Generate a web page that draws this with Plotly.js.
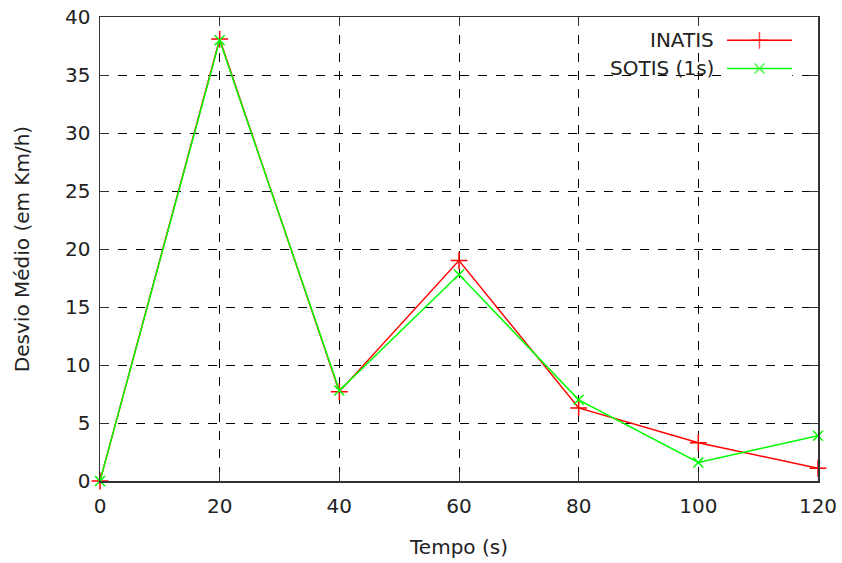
<!DOCTYPE html>
<html>
<head>
<meta charset="utf-8">
<script src="https://cdn.plot.ly/plotly-3.0.1.min.js"></script>
<style>html,body{margin:0;padding:0;background:#fff;}#chart{width:842px;height:563px;}</style>
</head>
<body>
<div id="chart"></div>
<script>
const tempo = [0, 20, 40, 60, 80, 100, 120];
const inatis = [0, 38.1, 7.7, 19.0, 6.3, 3.3, 1.1];
const sotis = [0, 38.0, 7.8, 17.8, 7.0, 1.6, 3.9];
const seriesNames = ['INATIS', 'SOTIS (1s)'];
const xTicks = [0, 20, 40, 60, 80, 100, 120];
const yTicks = [0, 5, 10, 15, 20, 25, 30, 35, 40];

const font = 'DejaVu Sans, sans-serif';
const txt = '#222';
const traces = [
  {x: tempo, y: inatis, name: seriesNames[0], mode: 'lines+markers', cliponaxis: false,
   line: {color: '#ff0000', width: 1.5},
   marker: {symbol: 'cross-thin', size: 12, line: {color: '#ff0000', width: 1.5}},
   showlegend: false},
  {x: tempo, y: sotis, name: seriesNames[1], mode: 'lines+markers', cliponaxis: false,
   line: {color: '#00ff00', width: 1.5},
   marker: {symbol: 'x-thin', size: 10, line: {color: '#00ff00', width: 1.5}},
   showlegend: false},
  // legend key samples (on a hidden auxiliary axis pair)
  {x: [0, 0.5, 1], y: [0.8, 0.8, 0.8], xaxis: 'x2', yaxis: 'y2', mode: 'lines+markers', showlegend: false, hoverinfo: 'skip',
   line: {color: '#ff0000', width: 1.5},
   marker: {symbol: 'cross-thin', size: [0, 12, 0], line: {color: '#ff0000', width: 1.5}}},
  {x: [0, 0.5, 1], y: [0.2, 0.2, 0.2], xaxis: 'x2', yaxis: 'y2', mode: 'lines+markers', showlegend: false, hoverinfo: 'skip',
   line: {color: '#00ff00', width: 1.5},
   marker: {symbol: 'x-thin', size: [0, 10, 0], line: {color: '#00ff00', width: 1.5}}}
];

const layout = {
  width: 842, height: 563,
  margin: {l: 100, r: 24, t: 17, b: 82},
  paper_bgcolor: '#fff', plot_bgcolor: '#fff',
  font: {family: font, size: 20, color: txt},
  xaxis: {
    domain: [0, 1], anchor: 'y',
    range: [0, 120], tickvals: xTicks, ticks: 'inside', ticklen: 9, tickcolor: '#333',
    showgrid: true, gridcolor: '#000', griddash: 'dash', gridwidth: 1,
    zeroline: false, showline: true, linecolor: '#333', linewidth: 1.5, mirror: 'ticks',
    ticklabelstandoff: 6,
    title: {text: 'Tempo (s)', font: {family: font, size: 20, color: txt}, standoff: 23},
    tickfont: {family: font, size: 20, color: txt}
  },
  yaxis: {
    domain: [0, 1], anchor: 'x',
    range: [0, 40], tickvals: yTicks, ticks: 'inside', ticklen: 9, tickcolor: '#333',
    showgrid: true, gridcolor: '#000', griddash: 'dash', gridwidth: 1,
    zeroline: false, showline: true, linecolor: '#333', linewidth: 1.5, mirror: 'ticks',
    ticklabelstandoff: 4,
    title: {text: 'Desvio Médio (em Km/h)', font: {family: font, size: 20, color: txt}, standoff: 30},
    tickfont: {family: font, size: 20, color: txt}
  },
  xaxis2: {domain: [0.873, 0.964], range: [0, 1], anchor: 'y2', visible: false, fixedrange: true},
  yaxis2: {domain: [0.869, 0.970], range: [0, 1], anchor: 'x2', visible: false, fixedrange: true},
  shapes: [
    {type: 'rect', xref: 'paper', yref: 'paper', x0: 0.675, x1: 0.979, y0: 0.864, y1: 0.997,
     fillcolor: '#fff', line: {width: 0}, layer: 'between'}
  ],
  annotations: [
    {xref: 'paper', yref: 'y2', x: 0.858, y: 0.8, text: seriesNames[0], showarrow: false, xanchor: 'right', yanchor: 'middle',
     font: {family: font, size: 20, color: txt}},
    {xref: 'paper', yref: 'y2', x: 0.858, y: 0.2, text: seriesNames[1], showarrow: false, xanchor: 'right', yanchor: 'middle',
     font: {family: font, size: 20, color: txt}}
  ]
};
Plotly.newPlot('chart', traces, layout, {displayModeBar: false, staticPlot: true});
</script>
</body>
</html>
